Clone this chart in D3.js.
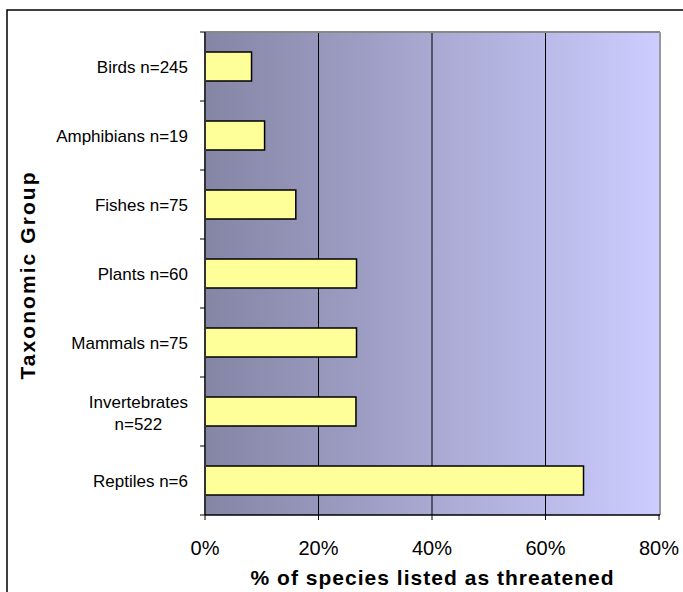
<!DOCTYPE html>
<html><head><meta charset="utf-8">
<script src="https://cdn.jsdelivr.net/npm/d3@7"></script>
<style>body{margin:0;background:#fff}svg{display:block;font-family:"Liberation Sans",Arial,sans-serif}</style>
</head><body><svg id="c" width="683" height="592"></svg>
<script>
const categories = ["Birds n=245","Amphibians n=19","Fishes n=75","Plants n=60","Mammals n=75","Invertebrates n=522","Reptiles n=6"];
const values = [8.2, 10.5, 16.0, 26.7, 26.7, 26.6, 66.7];
const xTicks = [0, 20, 40, 60, 80];
const xTitle = "% of species listed as threatened";
const yTitle = "Taxonomic Group";

const svg = d3.select("#c");
const L = 205, R = 659, T = 32, B = 515;
const x = d3.scaleLinear().domain([0, 80]).range([L, R]);
const y = d3.scaleBand().domain(categories).range([T, B]).padding(0);

// outer border
svg.append("rect").attr("x",7).attr("y",10).attr("width",700).attr("height",620)
  .attr("fill","none").attr("stroke","#000").attr("stroke-width",1.5);

const defs = svg.append("defs");
const g = defs.append("linearGradient").attr("id","bg").attr("x1","0").attr("x2","1").attr("y1","0").attr("y2","0");
g.append("stop").attr("offset","0").attr("stop-color","rgb(133,133,165)");
g.append("stop").attr("offset","1").attr("stop-color","rgb(204,204,255)");

svg.append("rect").attr("x",L).attr("y",T).attr("width",R-L).attr("height",B-T).attr("fill","url(#bg)");

// gridlines
svg.append("g").selectAll("line").data(xTicks.filter(t=>t>0 && t<80)).join("line")
  .attr("x1",d=>x(d)).attr("x2",d=>x(d)).attr("y1",T).attr("y2",B)
  .attr("stroke","#000").attr("stroke-width",1);

// frame top/right
svg.append("line").attr("x1",L).attr("x2",R+1).attr("y1",T).attr("y2",T).attr("stroke","#888").attr("stroke-width",2);
svg.append("line").attr("x1",R+1).attr("x2",R+1).attr("y1",T).attr("y2",B).attr("stroke","#999").attr("stroke-width",2);

// bars
const bh = y.bandwidth()*0.42;
svg.append("g").selectAll("rect").data(values).join("rect")
  .attr("x",x(0)).attr("y",(d,i)=>y(categories[i])+y.bandwidth()/2-bh/2)
  .attr("width",d=>x(d)-x(0)).attr("height",bh)
  .attr("fill","#ffff99").attr("stroke","#000").attr("stroke-width",1.5);

// y axis
const ya = svg.append("g").attr("transform",`translate(${L},0)`);
ya.append("line").attr("x1",0).attr("x2",0).attr("y1",T).attr("y2",B).attr("stroke","#333").attr("stroke-width",2);
const tickYs = d3.range(categories.length+1).map(i=>T+i*y.step());
ya.selectAll("line.t").data(tickYs).join("line").attr("class","t")
  .attr("x1",-5).attr("x2",0).attr("y1",d=>d).attr("y2",d=>d).attr("stroke","#000");

// category labels
const lab = svg.append("g").attr("font-size",17).attr("fill","#000");
categories.forEach((c,i)=>{
  const cy = y(c)+y.bandwidth()/2;
  const m = c.match(/^(Invertebrates) (n=\d+)$/);
  if(m){
    const t1 = lab.append("text").text(m[1]); const w = t1.node().getComputedTextLength(); t1.remove();
    const t = lab.append("text").attr("text-anchor","middle");
    t.append("tspan").attr("x",188-w/2).attr("y",cy-4).text(m[1]);
    t.append("tspan").attr("x",188-w/2).attr("y",cy+18).text(m[2]);
  } else {
    lab.append("text").attr("x",188).attr("y",cy+6).attr("text-anchor","end").text(c);
  }
});

// x axis
const xa = svg.append("g").attr("transform",`translate(0,${B})`);
xa.append("line").attr("x1",L).attr("x2",R+1).attr("y1",0).attr("y2",0).attr("stroke","#000").attr("stroke-width",1.5);
xa.selectAll("line.t").data(xTicks).join("line").attr("class","t")
  .attr("x1",d=>x(d)).attr("x2",d=>x(d)).attr("y1",0).attr("y2",5).attr("stroke","#000");
xa.selectAll("text").data(xTicks).join("text")
  .attr("x",d=>x(d)).attr("y",40).attr("text-anchor","middle").attr("font-size",20)
  .text(d=>d+"%");

// titles
svg.append("text").attr("x",432).attr("y",585).attr("text-anchor","middle")
  .attr("font-size",21).attr("font-weight","bold").attr("textLength",363).attr("lengthAdjust","spacing").text(xTitle);
svg.append("text").attr("transform","translate(35,276) rotate(-90)").attr("text-anchor","middle")
  .attr("font-size",21).attr("font-weight","bold").attr("textLength",207).attr("lengthAdjust","spacing").text(yTitle);
</script></body></html>
